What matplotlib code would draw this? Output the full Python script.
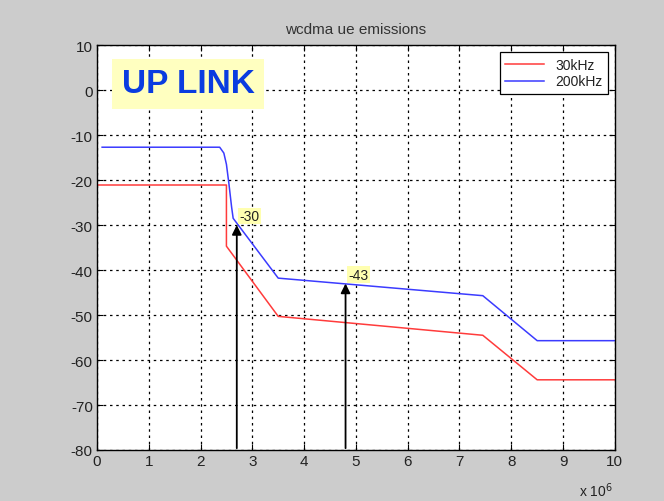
import matplotlib
matplotlib.use("Agg")
import matplotlib.pyplot as plt

# frequency offset in units of 1e6 Hz
x_30k = [0.0, 2.5, 2.5, 3.5, 7.45, 8.5, 10.0]
y_30k = [-21.1, -21.1, -34.7, -50.3, -54.5, -64.4, -64.4]

x_200k = [0.1, 2.37, 2.45, 2.5, 2.55, 2.6, 2.63, 3.5, 7.45, 8.5, 10.0]
y_200k = [-12.7, -12.7, -14.0, -16.5, -21.0, -26.0, -28.5, -41.8, -45.7, -55.7, -55.7]

marker_x = [2.7, 4.8]
marker_y = [-30, -43]
marker_text = ["-30", "-43"]

plt.rcParams["font.family"] = ["Liberation Sans", "DejaVu Sans"]
plt.rcParams["axes.unicode_minus"] = False

fig = plt.figure(figsize=(6.64, 5.02), dpi=100, facecolor="#cccccc")
ax = fig.add_axes([0.146, 0.1016, 0.78, 0.8066])
ax.set_facecolor("white")

ax.plot(x_30k, y_30k, color="#ff3b3b", linewidth=1.1, label="30kHz")
ax.plot(x_200k, y_200k, color="#3b3bff", linewidth=1.1, label="200kHz")

for mx, my, txt in zip(marker_x, marker_y, marker_text):
    ax.annotate("", xy=(mx, my), xytext=(mx, -79.6),
                arrowprops=dict(arrowstyle="-|>", color="black", lw=1.3,
                                mutation_scale=14, shrinkA=0, shrinkB=0))
    ax.text(mx + 0.05, my + 2.0, txt, fontsize=10, va="center", ha="left",
            color="#222222",
            bbox=dict(boxstyle="square,pad=0.1", facecolor="#ffffb0", edgecolor="none"))

ax.text(1.76, 1.4, "UP LINK", fontsize=24, fontweight="bold", color="#0a3ce0",
        ha="center", va="center",
        bbox=dict(boxstyle="square,pad=0.28", facecolor="#ffffc0", edgecolor="none"))

ax.set_xlim(0, 10)
ax.set_ylim(-80, 10)
ax.set_xticks(range(0, 11))
ax.set_yticks(range(-80, 11, 10))
ax.tick_params(direction="in", labelsize=11, length=4, pad=3, top=True, right=True,
               labelcolor="#222222")
ax.grid(True, color="black", linestyle=(0, (2, 3)), linewidth=0.9)
for s in ax.spines.values():
    s.set_linewidth(1.0)

ax.set_title("wcdma ue emissions", fontsize=11, pad=9, color="#333333")
fig.text(0.872, 0.01, r"x 10$^6$", fontsize=10, ha="left", color="#222222")

leg = ax.legend(loc="upper right", fontsize=10, fancybox=False, framealpha=1,
                edgecolor="black", handlelength=2.8, borderpad=0.4,
                labelspacing=0.2)
leg.get_frame().set_linewidth(0.9)
for t in leg.get_texts():
    t.set_color("#222222")

fig.savefig("out.png", dpi=100, facecolor=fig.get_facecolor())
